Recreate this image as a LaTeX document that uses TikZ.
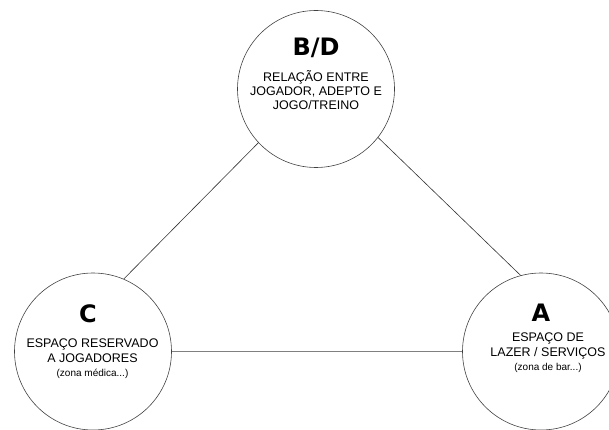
\documentclass[tikz,border=0pt]{standalone}
\usepackage{fontspec}
\setmainfont{Liberation Sans}
\newfontfamily\letterfont{DejaVu Sans}
\usepackage{tikz}

\tikzset{
	zone/.style={draw=black!75, line width=0.6pt, circle, minimum size=157pt, inner sep=0pt},
	link/.style={draw=black!80, line width=0.6pt},
	letter/.style={font=\letterfont\bfseries\fontsize{24}{26}\selectfont},
	caption/.style={align=center, font=\fontsize{12.5}{14.2}\selectfont, inner sep=0pt},
}
\newcommand{\note}[1]{{\fontsize{10}{12}\selectfont #1}}

\begin{document}
\begin{tikzpicture}[x=1pt, y=-1pt]
	\useasboundingbox (0,0) rectangle (609,430);

	% Draw circles
	\node[zone] (bd) at (316,89) {};
	\node[zone] (c) at (93,351.5) {};
	\node[zone] (a) at (541,351.5) {};

	% Letters
	\node[letter] (bdletter) at (316,48) {B/D};
	\node[letter] (cletter) at (88,314) {C};
	\node[letter] (aletter) at (541,313) {A};

	% Texts
	\node[caption, anchor=north] (bdtext) at (316,70) {RELAÇÃO ENTRE\\JOGADOR, ADEPTO E\\JOGO/TREINO};
	\node[caption, anchor=north] (ctext) at (92.5,339) {ESPAÇO RESERVADO\\A JOGADORES\\\note{(zona médica...)}};
	\node[caption, anchor=north] (atext) at (548,333) {ESPAÇO DE\\LAZER / SERVIÇOS\\\note{(zona de bar...)}};

	% Connect circles
	\draw[link] (bd.223) -- (c.67);
	\draw[link] (bd.322) -- (a.105);
	\draw[link, draw=black!50] (c.east) -- (a.west);
\end{tikzpicture}
\end{document}
